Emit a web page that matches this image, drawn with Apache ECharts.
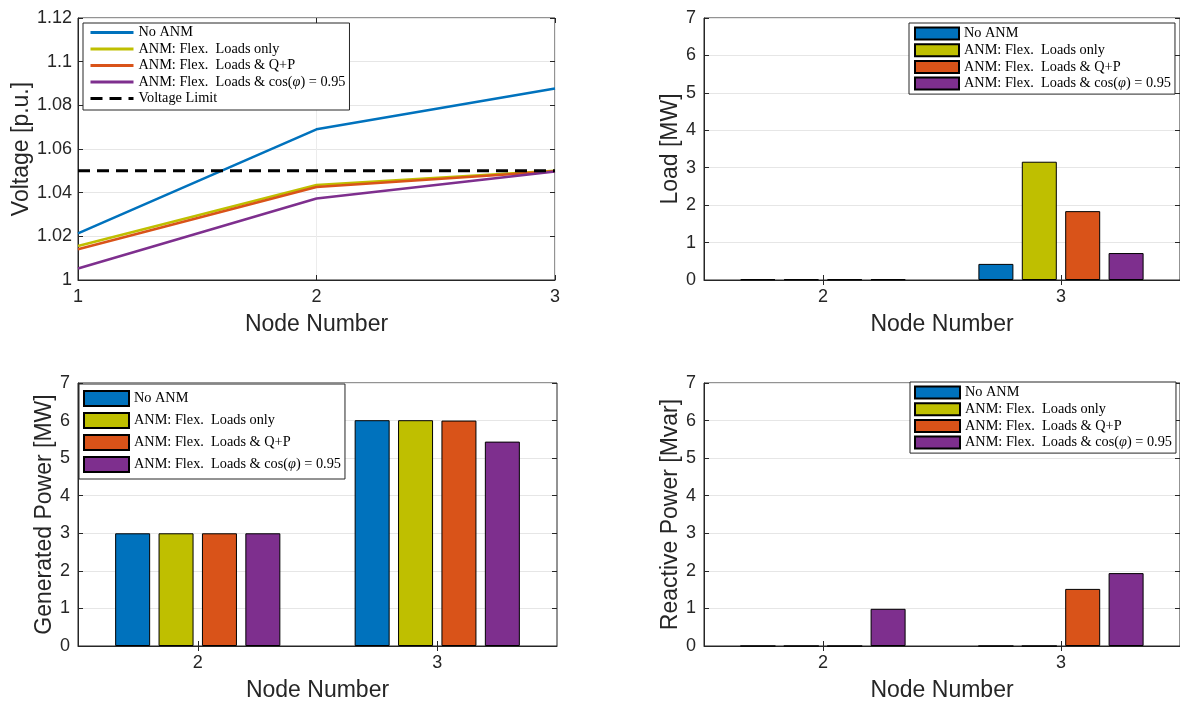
<!DOCTYPE html>
<html>
<head>
<meta charset="utf-8">
<script src="https://cdn.jsdelivr.net/npm/echarts@6/dist/echarts.min.js"></script>
<style>
  html, body { margin: 0; padding: 0; background: #ffffff; }
  #chart { width: 1180px; height: 704px; }
</style>
</head>
<body>
<div id="chart"></div>
<script>
// ---------------- data ----------------
const voltageNodes = [1, 2, 3];
const vNoANM   = [1.0214, 1.0690, 1.0877];
const vFlex    = [1.0156, 1.0435, 1.0500];
const vQP      = [1.0141, 1.0426, 1.0498];
const vCos     = [1.0053, 1.0373, 1.0497];
const vLimit   = [1.05, 1.05, 1.05];

const barNodes = ['2', '3'];
const loadNoANM = [0.02, 0.43];
const loadFlex  = [0.02, 3.16];
const loadQP    = [0.02, 1.84];
const loadCos   = [0.02, 0.72];

const genNoANM = [3.00, 6.01];
const genFlex  = [3.00, 6.01];
const genQP    = [3.00, 6.00];
const genCos   = [3.00, 5.44];

const qNoANM = [0.00, 0.00];
const qFlex  = [0.00, 0.00];
const qQP    = [0.00, 1.52];
const qCos   = [0.99, 1.94];

const seriesNames = ['No ANM', 'ANM: Flex.  Loads only', 'ANM: Flex.  Loads & Q+P', 'ANM: Flex.  Loads & cos(φ) = 0.95'];
const limitName = 'Voltage Limit';
const colors = ['#0072BD', '#BFBF00', '#D95319', '#7E2F8E'];

const yTicksV = { min: 1, max: 1.12, interval: 0.02 };
const yTicksBar = { min: 0, max: 7, interval: 1 };

// ---------------- styling helpers ----------------
const AX = '#262626';
const SANS = 'Liberation Sans, Arial, Helvetica, sans-serif';
const SERIF = 'Liberation Serif, Times New Roman, serif';
const LFS = 14.3;

function sep(name, g) { return name + '@' + g; }
function legendFmt(n) {
  const t = n.split('@')[0];
  return t.replace('φ', '{i|φ}');
}
const legendText = {
  fontFamily: SERIF, fontSize: LFS, color: '#000', lineHeight: 15,
  rich: { i: { fontFamily: SERIF, fontSize: LFS, fontStyle: 'italic', color: '#000', lineHeight: 15 } }
};

function bottomX(grid, cfg) {
  return Object.assign({
    gridIndex: grid, position: 'bottom',
    name: 'Node Number', nameLocation: 'middle', nameGap: 33,
    nameTextStyle: { fontFamily: SANS, fontSize: 23, color: AX },
    axisLine: { show: true, lineStyle: { color: AX, width: 1 } },
    axisTick: { show: true, inside: true, length: 5, lineStyle: { color: AX } },
    axisLabel: { fontFamily: SANS, fontSize: 18, color: AX, margin: 8 },
    splitLine: { show: false }
  }, cfg);
}
function topX(grid, cfg) {
  return Object.assign({
    gridIndex: grid, position: 'top',
    axisLine: { show: false },
    axisTick: { show: true, inside: true, length: 5, lineStyle: { color: AX } },
    axisLabel: { show: false },
    splitLine: { show: false }
  }, cfg);
}
function leftY(grid, name, gap, cfg) {
  return Object.assign({
    gridIndex: grid, type: 'value', position: 'left',
    name: name, nameLocation: 'middle', nameGap: gap, nameRotate: 90,
    nameTextStyle: { fontFamily: SANS, fontSize: 23, color: AX },
    axisLine: { show: true, lineStyle: { color: AX, width: 1 } },
    axisTick: { show: true, inside: true, length: 5, lineStyle: { color: AX } },
    axisLabel: { fontFamily: SANS, fontSize: 18, color: AX, margin: 6 },
    splitLine: { show: true, lineStyle: { color: '#e6e6e6', width: 1 } }
  }, cfg);
}
function rightY(grid, cfg) {
  return Object.assign({
    gridIndex: grid, type: 'value', position: 'right',
    axisLine: { show: false },
    axisTick: { show: true, inside: true, length: 5, lineStyle: { color: AX } },
    axisLabel: { show: false },
    splitLine: { show: false }
  }, cfg);
}

function lineSeries(name, vals, color, extra) {
  return Object.assign({
    type: 'line', name: sep(name, 0), xAxisIndex: 0, yAxisIndex: 0,
    data: voltageNodes.map((x, i) => [x, vals[i]]),
    symbol: 'none', silent: true, animation: false,
    lineStyle: { color: color, width: 2.5 }, itemStyle: { color: color }
  }, extra || {});
}
function barSeries(name, vals, color, g, axisIdx) {
  return {
    type: 'bar', name: sep(name, g), xAxisIndex: axisIdx, yAxisIndex: axisIdx,
    data: vals, barWidth: 35, barGap: '24%', animation: false, silent: true,
    itemStyle: { color: color, borderColor: '#000', borderWidth: 1 }
  };
}

const series = [
  lineSeries(seriesNames[0], vNoANM, colors[0]),
  lineSeries(seriesNames[1], vFlex, colors[1]),
  lineSeries(seriesNames[2], vQP, colors[2]),
  lineSeries(seriesNames[3], vCos, colors[3]),
  lineSeries(limitName, vLimit, '#000', { lineStyle: { color: '#000', width: 3, type: [12, 7] } })
];
const loadSets = [loadNoANM, loadFlex, loadQP, loadCos];
const genSets = [genNoANM, genFlex, genQP, genCos];
const qSets = [qNoANM, qFlex, qQP, qCos];
loadSets.forEach((v, i) => series.push(barSeries(seriesNames[i], v, colors[i], 1, 2)));
genSets.forEach((v, i) => series.push(barSeries(seriesNames[i], v, colors[i], 2, 4)));
qSets.forEach((v, i) => series.push(barSeries(seriesNames[i], v, colors[i], 3, 6)));

function makeLegend(g, names, left, top, pad, iw, ih, gap, extra) {
  return Object.assign({
    orient: 'vertical', left: left, top: top, padding: pad,
    itemWidth: iw, itemHeight: ih, itemGap: gap,
    backgroundColor: '#fff', borderColor: AX, borderWidth: 1, borderRadius: 0,
    selectedMode: false,
    data: names.map(n => sep(n, g)),
    formatter: legendFmt, textStyle: legendText
  }, extra || {});
}

const option = {
  backgroundColor: '#ffffff',
  animation: false,
  grid: [
    { left: 78, top: 18, width: 477, height: 262, show: true, borderColor: AX, borderWidth: 1, backgroundColor: 'transparent' },
    { left: 704, top: 18, width: 480, height: 262, show: true, borderColor: AX, borderWidth: 1, backgroundColor: 'transparent' },
    { left: 78, top: 383, width: 479, height: 263, show: true, borderColor: AX, borderWidth: 1, backgroundColor: 'transparent' },
    { left: 704, top: 383, width: 480, height: 263, show: true, borderColor: AX, borderWidth: 1, backgroundColor: 'transparent' }
  ],
  xAxis: [
    bottomX(0, { type: 'value', min: 1, max: 3, interval: 1,
      splitLine: { show: true, lineStyle: { color: '#ececec', width: 1 } } }),
    topX(0, { type: 'value', min: 1, max: 3, interval: 1 }),
    bottomX(1, { type: 'category', data: barNodes, axisTick: { show: true, inside: true, length: 5, alignWithLabel: true, lineStyle: { color: AX } } }),
    topX(1, { type: 'category', data: barNodes, axisTick: { show: true, inside: true, length: 5, alignWithLabel: true, lineStyle: { color: AX } } }),
    bottomX(2, { type: 'category', data: barNodes, axisTick: { show: true, inside: true, length: 5, alignWithLabel: true, lineStyle: { color: AX } } }),
    topX(2, { type: 'category', data: barNodes, axisTick: { show: true, inside: true, length: 5, alignWithLabel: true, lineStyle: { color: AX } } }),
    bottomX(3, { type: 'category', data: barNodes, axisTick: { show: true, inside: true, length: 5, alignWithLabel: true, lineStyle: { color: AX } } }),
    topX(3, { type: 'category', data: barNodes, axisTick: { show: true, inside: true, length: 5, alignWithLabel: true, lineStyle: { color: AX } } })
  ],
  yAxis: [
    leftY(0, 'Voltage [p.u.]', 45, yTicksV),
    rightY(0, yTicksV),
    leftY(1, 'Load [MW]', 22, Object.assign({ axisLabel: { fontFamily: SANS, fontSize: 18, color: AX, margin: 8 } }, yTicksBar)),
    rightY(1, yTicksBar),
    leftY(2, 'Generated Power [MW]', 22, Object.assign({ axisLabel: { fontFamily: SANS, fontSize: 18, color: AX, margin: 8 } }, yTicksBar)),
    rightY(2, yTicksBar),
    leftY(3, 'Reactive Power [Mvar]', 22, Object.assign({ axisLabel: { fontFamily: SANS, fontSize: 18, color: AX, margin: 8 } }, yTicksBar)),
    rightY(3, yTicksBar)
  ],
  legend: [
    makeLegend(0, seriesNames.concat([limitName]), 83, 23, [2, 4, 4, 6], 43, 12, 1.5,
      { itemStyle: { opacity: 0 }, lineStyle: { width: 3 } }),
    makeLegend(1, seriesNames, 909, 23, [3, 4, 3, 5], 44, 12, 1.7, { icon: 'rect' }),
    makeLegend(2, seriesNames, 79, 384, [6, 4, 6, 4], 45, 15, 5, { icon: 'rect' }),
    makeLegend(3, seriesNames, 910, 382, [3, 4, 3, 4], 45, 12, 1.7, { icon: 'rect' })
  ],
  series: series
};

const chart = echarts.init(document.getElementById('chart'), null, { renderer: 'canvas' });
chart.setOption(option);
</script>
</body>
</html>
